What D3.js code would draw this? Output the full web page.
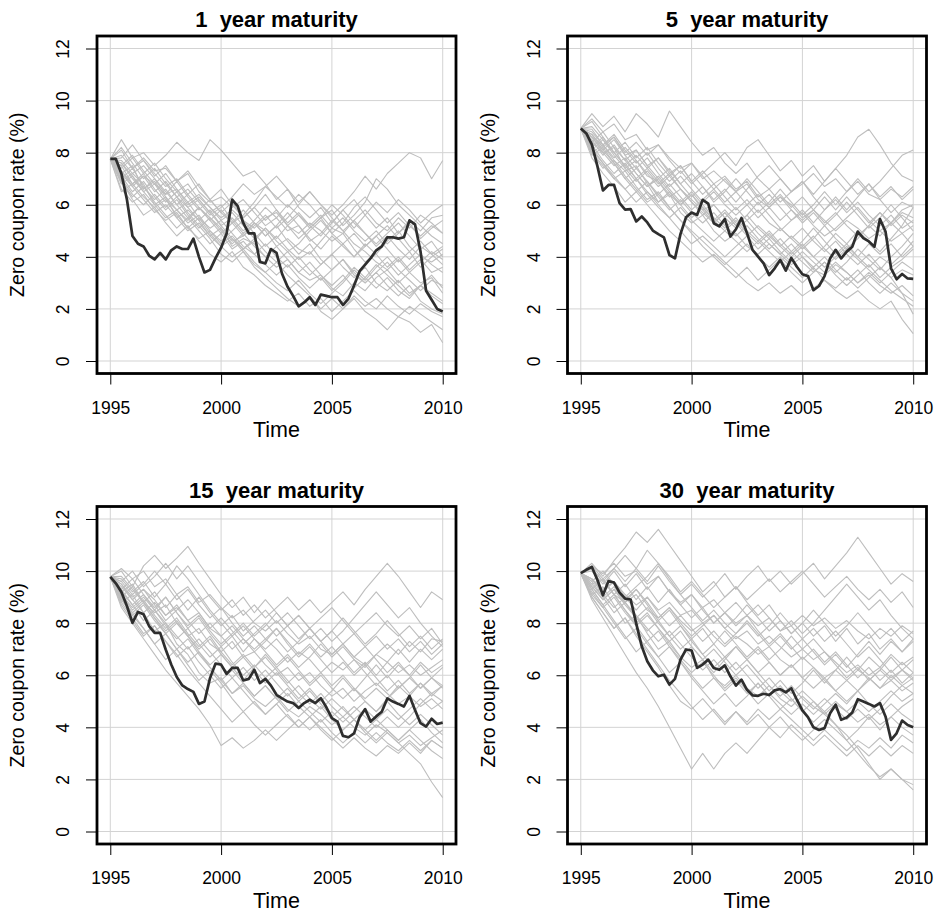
<!DOCTYPE html>
<html>
<head>
<meta charset="utf-8">
<script src="https://cdn.jsdelivr.net/npm/d3@7"></script>
<style>
  body { margin: 0; background: #fff; }
  svg { display: block; font-family: "Liberation Sans", Arial, Helvetica, sans-serif; }
</style>
</head>
<body>
<svg id="chart" width="935" height="912"></svg>
<script>
// Panel titles and axis ticks
const titles = ["1  year maturity", "5  year maturity", "15  year maturity", "30  year maturity"];
const xTicks = [1995, 2000, 2005, 2010];
const yTicks = [0, 2, 4, 6, 8, 10, 12];
const startYear = 1995;

// Observed zero coupon rates, quarterly 1995 Q1 .. 2010 Q1
const observed1 = [7.76,7.76,7.2,6.2,4.8,4.5,4.4,4.05,3.9,4.15,3.9,4.25,4.4,4.3,4.3,4.7,4.0,3.4,3.5,3.95,
  4.35,4.9,6.2,5.95,5.3,4.9,4.9,3.8,3.75,4.3,4.15,3.35,2.85,2.5,2.1,2.25,2.45,2.15,2.55,2.5,
  2.45,2.45,2.15,2.4,2.9,3.45,3.7,3.95,4.25,4.4,4.75,4.75,4.7,4.75,5.4,5.25,4.2,2.7,2.35,2.0,1.9];
const observed5 = [8.93,8.74,8.31,7.48,6.55,6.76,6.76,6.06,5.81,5.83,5.36,5.55,5.32,5.01,4.87,4.75,4.07,3.94,4.88,5.52,
  5.70,5.61,6.19,6.04,5.29,5.17,5.45,4.78,5.06,5.49,4.91,4.27,4.01,3.75,3.30,3.56,3.88,3.47,3.96,3.62,
  3.33,3.26,2.72,2.88,3.26,3.94,4.27,3.94,4.20,4.39,4.97,4.72,4.59,4.39,5.45,4.97,3.56,3.14,3.34,3.17,3.15];
const observed15 = [9.78,9.53,9.20,8.66,8.01,8.43,8.34,7.89,7.63,7.63,6.99,6.41,5.93,5.61,5.47,5.36,4.90,4.99,5.89,6.45,
  6.41,6.05,6.28,6.28,5.80,5.86,6.21,5.70,5.86,5.60,5.25,5.11,4.99,4.93,4.74,4.93,5.06,4.93,5.12,4.77,
  4.35,4.22,3.67,3.62,3.77,4.39,4.70,4.22,4.42,4.60,5.11,4.99,4.90,4.80,5.21,4.67,4.16,4.03,4.33,4.13,4.18];
const observed30 = [9.92,10.05,10.16,9.66,9.07,9.62,9.56,9.17,8.94,8.91,7.99,7.11,6.54,6.19,5.96,6.02,5.64,5.86,6.60,6.99,
  6.95,6.28,6.41,6.60,6.28,6.21,6.38,5.96,5.60,5.83,5.44,5.23,5.21,5.29,5.24,5.42,5.47,5.34,5.50,5.06,
  4.65,4.39,4.00,3.90,3.97,4.54,4.87,4.29,4.38,4.57,5.08,4.99,4.90,4.80,4.93,4.42,3.52,3.77,4.26,4.09,4.00];

// Simulated paths, half-yearly 1995.0 .. 2010.0
const simulated1 = [
  [7.75,8.5,7.8,8.0,7.5,7.9,8.4,8.0,7.7,8.5,8.1,7.6,7.1,7.3,6.8,6.2,6.6,5.9,5.5,5.9,5.3,5.8,6.2,5.6,5.1,5.5,4.9,5.3,4.7,5.1,5.4],
  [7.75,7.3,6.8,7.2,6.6,6.1,6.5,5.9,5.4,5.8,5.2,4.7,4.2,3.6,3.2,2.8,2.4,2.1,2.5,1.9,1.6,2.0,2.4,1.9,1.6,1.2,1.7,1.5,1.1,1.4,0.7],
  [7.75,6.9,6.2,5.6,5.9,5.3,4.8,5.2,4.6,4.1,3.8,4.2,3.6,3.3,2.9,2.6,2.3,2.6,2.1,2.4,1.9,2.3,2.7,2.3,2.0,2.5,2.1,1.8,2.2,1.9,1.7],
  [7.75,7.6,7.1,6.6,7.0,6.4,6.9,6.3,5.8,6.2,5.7,5.3,5.6,6.1,6.7,6.3,5.9,6.4,6.0,5.5,5.8,5.2,5.6,6.1,7.0,6.6,6.0,5.6,5.2,4.8,4.5],
  [7.75,7.0,7.4,6.7,6.2,6.6,6.0,5.5,5.9,5.4,4.9,5.3,5.8,5.3,4.8,5.2,4.6,4.1,4.5,3.9,3.5,3.9,3.3,3.0,3.4,2.9,2.5,2.9,2.3,2.0,1.8],
  [7.75,8.2,7.6,7.0,7.4,6.8,6.3,6.6,6.1,5.6,5.9,6.3,6.8,6.4,6.7,7.1,6.6,6.1,6.5,6.0,5.6,6.0,6.5,7.1,6.6,7.2,7.6,8.0,7.8,7.0,7.7],
  [7.75,6.6,6.1,6.4,5.8,5.4,5.7,5.1,4.7,5.0,4.5,4.8,4.3,4.7,4.2,3.8,4.2,3.7,3.3,3.7,4.1,3.6,3.2,3.6,3.0,2.7,3.1,2.6,2.9,3.3,2.8],
  [7.75,7.3,6.7,6.2,5.7,6.0,5.5,5.0,5.3,4.8,4.4,4.7,4.3,4.6,5.1,4.7,5.2,5.6,5.2,4.8,5.3,5.8,5.3,4.9,4.4,4.8,4.3,3.9,4.4,4.1,3.7],
  [7.75,7.9,7.4,7.7,7.2,6.7,7.0,6.4,6.8,6.2,5.7,6.1,5.5,5.9,6.4,5.8,5.3,5.7,5.2,5.6,5.1,5.5,5.0,4.6,5.0,4.5,4.9,5.4,5.0,5.5,5.6],
  [7.75,6.8,7.1,6.5,6.0,5.5,5.8,5.3,5.6,5.0,4.6,5.0,5.4,4.9,4.4,4.8,4.3,3.9,4.2,3.7,4.1,4.5,4.0,4.4,4.8,4.3,3.8,4.2,3.6,4.0,4.3],
  [7.75,7.5,7.9,7.3,6.8,7.2,6.6,6.1,6.4,5.9,5.4,5.7,5.2,4.7,5.1,4.6,4.2,4.5,5.0,5.4,4.9,5.3,5.9,6.3,5.8,5.3,5.7,5.2,4.8,5.2,4.9],
  [7.75,7.1,6.5,6.9,6.3,5.8,6.2,5.6,5.1,5.5,5.0,4.5,4.9,4.4,4.0,4.4,3.9,3.4,3.8,3.3,2.9,3.3,2.8,3.2,3.7,3.3,2.9,2.5,2.9,2.6,2.3],
  [7.75,7.7,7.2,7.5,7.0,6.5,6.0,6.4,5.9,5.4,5.8,5.3,4.8,5.2,5.6,5.1,5.5,6.0,6.5,6.0,5.5,5.0,5.4,4.9,4.5,4.9,5.3,4.8,4.3,4.6,4.0],
  [7.75,6.5,6.8,6.3,5.9,6.2,5.6,5.1,5.5,4.9,4.4,4.0,4.3,3.8,3.4,3.0,2.7,3.1,2.6,2.2,2.6,3.0,3.5,3.1,3.6,4.0,3.5,3.1,2.7,3.1,2.9],
  [7.75,7.4,7.8,7.2,7.6,7.0,6.5,6.8,6.2,5.7,6.0,5.4,4.9,5.3,4.8,5.2,5.7,5.2,4.7,4.3,4.8,4.4,4.0,4.5,4.1,3.6,4.0,3.5,3.9,3.4,3.6],
  [7.75,7.0,6.4,6.0,6.4,5.9,6.3,5.7,5.2,4.7,4.1,3.8,4.2,3.7,3.4,3.8,3.3,2.9,2.5,2.0,2.4,2.0,2.5,2.1,2.4,2.0,1.7,2.1,1.8,1.5,1.2],
  [7.75,7.8,8.3,7.7,7.1,7.5,6.9,7.3,6.7,6.2,6.6,6.0,5.5,5.9,5.4,5.8,5.2,4.7,5.1,5.5,6.0,5.6,5.1,5.6,6.1,5.7,6.2,5.8,5.3,5.7,6.0],
  [7.75,6.9,6.3,6.7,6.1,5.6,5.1,5.5,5.0,4.5,4.9,4.3,4.6,4.1,3.7,3.3,3.7,3.2,2.8,3.2,2.7,3.1,3.6,3.2,2.8,3.2,2.7,2.4,2.9,2.5,2.2],
  [7.75,7.2,6.7,7.1,6.5,6.9,6.3,5.9,6.2,5.7,5.2,5.5,5.0,5.4,5.9,5.5,6.0,5.6,5.1,5.5,4.9,4.5,4.9,4.4,4.8,5.2,4.7,4.2,4.6,4.1,4.4],
  [7.75,7.6,7.0,6.5,6.8,6.2,5.8,6.1,5.5,5.1,5.4,4.9,4.4,4.1,4.5,4.0,3.6,4.0,3.5,3.1,3.5,3.9,3.4,3.0,3.4,3.8,3.3,3.7,4.1,3.7,3.4],
  [7.75,7.2,7.5,6.6,6.9,6.3,5.8,5.4,5.9,5.5,5.1,4.6,4.8,5.3,5.0,4.4,4.7,4.3,4.1,4.6,5.1,4.9,4.3,3.8,4.1,4.6,5.0,4.4,4.0,3.8,4.1],
  [7.75,8.1,7.4,7.8,7.3,7.4,6.9,7.2,6.5,6.1,6.3,5.9,6.2,5.7,5.2,5.5,5.0,5.2,4.6,4.9,5.4,5.0,4.5,4.2,3.8,3.5,3.9,3.4,3.0,3.2,2.6],
  [7.75,6.9,7.2,6.8,6.0,6.3,5.5,5.8,5.4,4.8,5.1,4.4,4.7,4.5,4.0,3.6,3.9,3.4,3.1,3.3,2.8,2.5,3.0,2.7,3.2,3.5,3.0,3.4,3.8,4.2,3.9],
  [7.75,7.5,6.8,7.1,6.8,6.4,6.6,6.0,6.3,5.9,5.5,5.8,5.4,5.1,5.5,5.7,5.2,4.9,5.3,5.0,4.6,4.9,5.4,5.8,5.3,5.0,5.5,5.1,5.6,5.3,4.9]
];
const simulated5 = [
  [8.93,9.5,9.0,9.4,8.8,9.5,9.1,8.6,9.6,9.0,8.4,7.9,8.2,7.6,7.2,7.6,7.0,6.6,7.0,6.5,6.9,6.3,5.8,6.2,5.7,6.1,5.6,5.2,5.6,5.1,5.4],
  [8.93,8.2,7.6,7.0,7.3,6.7,6.2,6.5,5.9,5.4,5.0,4.6,4.2,3.8,3.4,3.0,2.7,3.0,2.6,2.9,2.5,2.8,3.1,2.7,2.4,2.7,2.3,2.0,2.3,1.6,1.05],
  [8.93,8.6,8.0,7.5,7.8,7.2,6.7,7.0,6.5,6.0,6.4,5.8,5.3,5.7,5.2,5.6,6.1,5.6,5.1,4.7,5.1,4.6,4.2,4.6,4.1,3.7,4.1,3.6,3.2,2.6,1.8],
  [8.93,8.9,8.3,8.7,8.1,7.6,8.0,7.4,6.9,7.3,6.8,7.2,7.6,8.0,7.5,8.2,8.5,7.9,7.3,7.7,7.1,7.5,6.9,7.4,7.9,8.6,8.9,8.3,7.6,7.1,6.9],
  [8.93,7.9,8.2,7.6,7.0,6.5,6.9,6.3,5.8,6.2,5.7,5.3,5.7,5.2,4.8,5.2,4.7,4.3,4.7,4.2,4.6,5.1,4.6,4.1,4.5,4.0,3.6,4.0,3.7,4.1,4.6],
  [8.93,8.4,8.8,8.2,7.7,8.1,7.5,7.0,7.4,6.8,6.3,6.7,6.1,6.5,7.0,6.5,6.0,6.4,5.9,5.4,5.8,5.3,5.8,6.3,5.8,6.3,6.8,6.2,5.7,6.1,5.9],
  [8.93,8.0,7.4,7.7,7.1,6.6,6.1,6.4,5.9,5.4,4.9,4.4,4.0,3.6,3.2,3.6,3.1,3.5,3.9,3.4,3.0,3.4,3.8,3.3,2.9,3.3,3.7,3.2,3.6,3.9,4.3],
  [8.93,9.2,8.6,8.0,8.4,7.8,8.2,7.6,7.1,7.5,6.9,6.4,6.8,6.3,5.8,6.2,5.7,6.1,6.6,6.1,5.6,6.0,6.5,6.0,6.5,7.0,6.5,6.9,7.4,7.9,8.1],
  [8.93,8.5,7.9,8.3,7.7,7.2,6.7,7.1,6.6,6.1,6.5,6.0,5.5,5.1,5.5,5.0,4.6,5.0,4.5,4.1,4.5,4.0,4.4,4.9,4.5,5.0,4.6,4.2,4.7,5.2,5.9],
  [8.93,8.1,8.5,7.9,7.4,6.9,7.3,6.8,7.2,6.6,6.1,5.6,6.0,5.5,5.9,5.4,4.9,4.5,4.1,4.5,4.0,3.6,4.0,3.5,3.1,3.5,3.0,2.6,3.0,2.6,2.3],
  [8.93,8.7,8.1,7.6,7.0,7.4,6.9,6.4,6.8,6.3,5.8,6.2,6.6,6.1,6.5,7.0,6.5,6.0,6.4,5.9,6.3,5.8,5.3,5.7,5.2,4.8,5.2,5.7,5.3,5.8,6.0],
  [8.93,7.8,7.2,6.7,6.1,6.5,6.0,5.5,5.0,4.6,4.2,3.8,4.1,3.7,4.1,4.5,4.0,3.6,4.0,3.6,3.2,3.6,3.1,2.8,3.2,2.8,3.2,3.6,3.2,3.5,3.3],
  [8.93,8.8,8.3,7.8,8.2,7.7,7.2,6.7,7.1,6.6,6.1,5.7,5.3,5.7,5.2,5.6,5.1,4.7,5.1,4.7,4.3,4.7,5.2,4.7,4.3,4.7,5.2,4.8,5.3,4.9,5.2],
  [8.93,8.3,7.7,7.2,7.6,7.0,6.5,6.1,6.5,6.0,5.5,5.9,5.4,5.8,5.3,4.8,5.2,4.8,4.4,4.0,4.4,4.0,3.6,4.0,4.4,4.0,4.5,4.1,4.5,4.0,4.4],
  [8.93,9.0,8.5,8.0,7.5,7.9,7.4,7.8,7.3,6.8,7.2,6.7,6.2,6.6,6.1,6.6,7.1,7.5,7.0,6.5,6.9,6.4,6.9,7.4,6.9,6.4,6.8,6.3,6.7,6.2,6.6],
  [8.93,8.0,7.5,7.0,6.6,7.0,6.4,5.9,5.5,5.9,5.4,5.0,4.6,5.0,4.6,4.2,4.6,4.2,3.8,4.2,3.8,3.4,3.8,3.4,3.8,4.3,3.9,3.5,4.0,4.4,4.9],
  [8.93,8.6,8.1,8.5,7.9,7.4,7.8,7.2,6.7,7.1,6.6,6.1,6.5,6.0,5.6,6.0,5.5,5.9,5.4,5.8,5.4,5.8,6.3,5.8,6.3,5.8,5.3,5.7,5.2,5.6,5.3],
  [8.93,8.2,8.6,8.0,7.5,7.0,7.4,6.9,6.4,6.0,6.4,5.9,5.4,5.0,5.4,4.9,4.5,4.9,4.4,4.8,4.4,4.8,4.3,3.9,4.3,3.9,3.5,3.1,2.7,2.4,2.1],
  [8.93,8.7,8.2,8.6,8.0,8.4,7.9,8.3,7.7,7.2,7.6,7.1,6.6,7.0,6.5,6.0,6.4,5.9,6.3,5.8,5.3,5.7,5.2,5.6,6.1,5.6,5.1,5.5,6.0,5.5,5.0],
  [8.93,8.1,7.6,7.1,6.6,6.1,6.5,6.0,5.5,5.0,4.5,4.8,4.4,4.0,4.4,4.8,4.3,4.7,4.2,3.8,4.2,3.8,3.4,3.8,3.4,3.0,3.4,3.0,3.4,3.8,3.5],
  [8.93,8.4,8.0,8.2,7.4,7.7,7.1,6.9,6.3,6.6,6.2,5.8,6.0,5.5,5.1,5.4,5.8,5.3,5.0,5.4,5.7,5.2,4.8,5.1,5.5,5.9,5.4,5.0,5.3,5.7,5.5],
  [8.93,9.3,8.8,9.1,8.5,8.7,8.1,8.3,7.8,7.4,7.6,7.0,7.3,6.9,6.5,6.8,6.2,5.9,6.3,6.0,5.5,5.8,5.4,5.0,5.4,5.1,4.7,5.0,4.6,4.9,4.4],
  [8.93,8.0,8.3,7.7,7.3,7.5,6.8,6.1,6.4,5.7,5.3,5.6,5.0,4.6,4.9,4.4,4.1,4.5,4.1,3.7,4.0,3.5,3.3,3.7,3.4,3.0,3.3,2.9,2.6,2.9,2.5],
  [8.93,8.6,8.3,8.6,7.9,8.1,7.5,7.8,7.2,7.5,6.9,7.3,6.8,7.1,6.6,6.9,6.3,6.6,6.1,6.5,6.8,7.2,6.7,7.0,6.5,6.9,6.4,6.2,6.6,6.3,6.7]
];
const simulated15 = [
  [9.78,10.0,9.4,10.2,10.6,10.1,10.5,10.95,10.3,9.7,9.1,8.6,9.0,8.4,8.9,8.4,7.9,8.3,7.8,7.3,7.7,7.2,7.6,7.1,7.5,7.0,7.4,6.9,7.3,6.8,7.2],
  [9.78,8.6,8.0,7.4,6.8,6.2,5.7,5.2,4.7,4.1,3.3,3.6,3.2,3.5,3.9,3.5,3.9,4.3,3.9,4.3,3.8,3.4,3.8,3.4,3.8,3.4,3.1,3.5,3.1,3.5,3.2],
  [9.78,9.0,8.3,7.8,7.2,6.6,7.0,6.4,5.8,6.2,5.7,5.1,4.6,5.0,4.5,4.9,5.3,4.8,4.4,4.8,4.3,3.9,4.3,3.8,3.4,3.8,3.4,3.0,2.6,1.9,1.3],
  [9.78,9.6,10.0,9.4,9.8,10.3,9.7,10.2,9.6,9.0,8.5,8.9,8.3,8.7,8.2,8.6,9.0,8.5,8.9,8.4,8.8,9.2,8.7,9.3,9.8,10.3,9.8,9.2,8.6,9.2,8.9],
  [9.78,9.1,8.5,8.9,8.3,7.8,8.2,7.6,7.1,7.5,6.9,6.4,6.8,6.3,6.7,6.2,5.7,6.1,5.6,6.0,5.5,5.1,5.5,5.0,4.6,5.0,4.5,4.1,4.5,4.1,3.7],
  [9.78,9.3,9.7,9.1,8.6,9.0,8.4,7.9,8.3,7.7,7.2,7.6,8.0,7.5,7.9,8.4,7.9,7.4,7.8,7.3,7.7,8.2,7.7,7.2,7.6,8.1,7.6,7.1,7.5,7.0,7.4],
  [9.78,8.8,8.2,7.6,7.9,7.3,6.8,6.2,5.7,5.2,4.7,4.2,4.6,4.1,3.7,4.1,4.5,4.0,4.4,3.9,3.5,3.9,4.3,3.9,3.5,3.9,3.5,3.9,4.3,3.8,3.4],
  [9.78,9.7,9.2,9.6,9.0,9.5,8.9,9.3,8.7,8.2,8.6,8.0,7.5,7.9,7.4,7.8,7.2,6.7,7.1,6.6,6.1,6.5,6.0,6.4,5.9,5.4,5.8,5.3,5.7,5.2,5.6],
  [9.78,9.2,8.7,8.1,8.5,7.9,7.4,7.8,7.2,6.7,7.1,6.5,6.0,6.4,5.9,6.3,5.8,5.3,4.9,5.3,4.8,4.4,4.8,4.4,4.0,4.4,4.0,4.4,4.9,5.3,5.6],
  [9.78,9.5,8.9,8.4,8.8,8.3,8.7,8.1,7.6,8.0,7.5,7.0,7.4,6.9,7.3,7.8,7.3,6.8,7.2,6.7,7.1,6.6,6.1,6.5,6.0,6.5,7.0,6.5,7.0,6.6,7.0],
  [9.78,8.9,8.3,8.7,8.1,7.6,7.0,7.4,6.8,6.3,5.8,6.2,5.7,5.2,5.6,5.1,4.6,5.0,4.6,4.2,4.6,4.2,4.6,5.0,4.6,5.1,5.6,5.2,5.7,5.3,5.0],
  [9.78,9.6,9.1,9.5,10.0,9.5,10.2,9.7,9.1,8.5,8.0,7.5,7.9,7.4,7.0,7.4,6.9,7.3,7.8,7.3,6.8,7.2,6.7,7.1,6.6,6.1,6.5,6.0,5.5,5.9,5.5],
  [9.78,9.0,9.4,8.8,8.2,7.7,8.1,7.5,7.0,7.4,6.8,6.3,6.7,6.2,5.7,6.1,5.6,5.1,5.5,5.0,5.4,5.9,5.4,5.9,6.4,5.9,6.4,6.0,6.5,6.1,6.4],
  [9.78,8.7,8.1,7.5,7.9,7.3,6.7,7.1,6.5,6.0,5.5,5.9,5.4,4.9,4.5,4.9,4.4,4.0,4.4,4.0,3.6,3.2,3.6,3.2,2.9,3.3,3.0,3.4,3.0,3.5,3.2],
  [9.78,9.4,8.9,9.3,8.7,8.1,8.5,8.9,8.4,7.8,8.2,7.7,7.2,7.6,8.0,7.5,7.9,8.3,7.8,8.2,8.6,8.1,7.6,8.0,8.4,7.9,7.5,7.9,7.4,7.8,7.2],
  [9.78,9.1,8.6,9.0,8.5,8.0,7.5,7.0,7.4,6.9,6.4,5.9,6.3,5.8,6.2,5.7,5.2,5.6,5.1,4.7,5.1,4.7,4.3,4.7,4.3,4.7,4.3,4.7,5.1,4.7,5.0],
  [9.78,9.8,9.3,8.8,9.2,8.6,9.1,8.5,9.0,8.4,7.9,8.3,7.7,8.1,8.5,8.0,8.4,7.9,7.4,7.8,7.3,7.7,8.2,8.7,9.2,8.7,8.2,8.6,8.0,7.5,7.1],
  [9.78,8.9,8.4,7.8,7.2,7.6,7.0,6.5,6.9,6.3,5.8,5.3,5.7,5.2,5.6,5.1,5.5,5.0,5.4,4.9,4.4,4.8,4.3,3.9,4.3,3.9,3.5,3.9,3.5,3.1,2.8],
  [9.78,9.3,8.7,9.1,8.5,9.0,8.4,7.8,8.2,7.6,7.1,7.5,6.9,7.4,6.9,6.4,6.8,6.3,6.7,7.2,6.7,7.1,6.6,6.1,5.6,6.0,5.5,5.9,6.4,5.9,6.3],
  [9.78,9.0,8.4,8.8,8.2,7.6,8.0,7.5,6.9,6.4,6.8,6.3,5.8,6.3,6.8,6.3,6.7,6.2,5.7,6.1,5.6,6.0,5.5,5.1,5.5,5.1,5.5,5.9,5.5,5.9,5.6],
  [9.78,9.2,9.5,8.8,8.4,8.7,8.0,7.5,7.8,7.2,6.9,7.3,6.7,6.9,6.4,6.0,6.3,5.8,6.1,5.6,5.2,5.5,5.0,5.4,5.7,5.3,4.9,5.2,4.8,5.1,4.7],
  [9.78,9.5,9.0,9.3,8.9,8.3,8.6,8.1,8.4,7.8,7.5,7.9,7.4,7.0,7.4,7.0,6.5,6.9,6.6,6.1,6.5,6.2,6.6,6.3,6.8,7.2,6.8,7.3,6.9,7.4,7.3],
  [9.78,8.8,9.1,8.4,7.7,8.0,7.2,6.8,6.1,5.7,5.9,5.3,5.6,5.1,4.8,5.2,4.7,4.4,4.8,4.5,4.1,4.4,4.0,3.7,4.1,3.8,3.4,3.7,3.3,3.6,3.9],
  [9.78,10.1,9.7,10.0,9.4,9.7,9.1,9.4,8.8,9.1,8.6,8.2,8.5,8.0,7.7,8.1,7.6,7.2,7.5,7.0,6.8,7.2,6.7,6.4,6.8,6.5,6.1,6.4,6.0,6.3,6.6]
];
const simulated30 = [
  [9.92,10.3,9.8,10.4,10.9,11.5,11.1,11.6,11.0,10.4,9.8,9.2,9.6,9.0,9.4,8.8,8.3,8.7,8.1,7.6,8.0,7.5,7.9,7.3,7.8,7.2,7.6,7.0,7.4,6.9,7.3],
  [9.92,8.9,8.2,7.5,6.8,6.1,5.5,4.8,4.0,3.2,2.4,3.0,2.4,3.0,3.4,3.0,3.5,4.0,3.6,4.1,3.7,3.3,3.7,3.3,2.9,3.3,2.9,3.3,2.9,3.3,3.0],
  [9.92,9.3,8.7,8.1,7.5,6.9,7.3,6.7,6.1,6.5,5.9,5.4,4.9,5.3,4.8,5.2,5.7,5.2,4.7,5.1,4.6,4.2,4.6,4.1,3.5,3.0,2.5,2.1,2.4,2.0,1.6],
  [9.92,10.1,9.6,10.1,9.6,10.1,9.6,10.2,9.6,9.1,9.5,9.0,9.4,9.9,9.3,9.8,10.2,9.6,10.0,9.5,9.9,10.3,9.7,10.2,10.7,11.3,10.7,10.1,9.5,9.9,9.6],
  [9.92,9.4,8.9,9.3,8.7,8.2,8.6,8.0,7.5,7.9,7.3,6.8,7.2,6.7,7.1,6.6,6.1,6.5,6.0,6.4,5.9,5.5,5.9,5.4,5.0,5.4,4.9,4.5,4.9,4.5,4.2],
  [9.92,9.6,10.0,9.5,8.9,9.3,8.8,8.2,8.6,8.0,7.5,7.9,8.3,7.8,8.2,8.7,8.2,7.7,8.1,7.6,8.0,8.5,8.0,7.5,7.9,8.4,7.9,7.4,7.8,7.3,7.7],
  [9.92,9.0,8.4,7.8,8.2,7.6,7.0,6.4,5.8,5.3,4.8,4.3,4.7,4.2,4.6,4.1,4.5,4.0,4.4,3.9,3.5,3.9,4.3,3.9,3.5,3.9,4.4,3.9,4.4,4.0,3.7],
  [9.92,10.0,9.5,10.0,9.4,9.9,9.3,9.8,9.2,8.7,9.1,8.5,8.0,8.4,7.9,8.3,7.7,7.2,7.6,7.1,6.6,7.0,6.5,6.9,6.4,5.9,6.3,5.8,6.2,5.7,6.1],
  [9.92,9.5,9.0,8.4,8.8,8.2,7.7,8.1,7.5,7.0,7.4,6.8,6.3,6.7,6.2,6.6,6.1,5.6,5.2,5.6,5.1,4.7,5.1,4.7,4.3,4.7,4.3,4.7,5.2,5.6,5.9],
  [9.92,9.7,9.1,8.6,9.0,8.5,9.0,8.4,7.9,8.3,7.8,7.3,7.7,7.2,7.6,8.1,7.6,7.1,7.5,7.0,7.4,6.9,6.4,6.8,6.3,6.8,7.3,6.8,7.3,6.9,7.4],
  [9.92,9.2,8.6,9.0,8.4,7.9,7.3,7.7,7.1,6.6,6.1,6.5,6.0,5.5,5.9,5.4,4.9,5.3,4.9,4.5,4.9,4.5,4.9,5.3,4.9,5.4,5.9,5.5,6.0,5.6,5.3],
  [9.92,10.2,9.7,10.1,10.6,10.1,10.8,10.3,9.7,9.1,8.6,8.1,8.5,8.0,7.6,8.0,7.5,7.9,8.4,7.9,7.4,7.8,7.3,7.7,7.2,6.7,7.1,6.6,6.1,6.5,6.1],
  [9.92,9.3,9.7,9.1,8.5,8.0,8.4,7.8,7.3,7.7,7.1,6.6,7.0,6.5,6.0,6.4,5.9,5.4,5.8,5.3,5.7,6.2,5.7,6.2,6.7,6.2,6.7,6.3,6.8,6.4,6.7],
  [9.92,9.0,8.4,7.8,8.2,7.5,6.9,6.3,5.6,5.0,4.7,5.1,4.6,4.1,4.6,4.2,4.7,4.3,4.7,4.3,3.9,3.5,3.9,3.5,3.1,3.5,3.2,3.6,3.2,3.7,3.4],
  [9.92,9.7,9.2,9.6,9.0,9.4,9.8,10.3,9.8,9.2,9.6,9.1,8.6,9.0,9.4,8.9,9.3,9.7,9.2,9.6,10.0,9.5,9.0,9.4,9.8,9.3,8.9,9.3,8.8,9.2,8.6],
  [9.92,9.4,8.9,9.3,8.8,8.3,7.8,7.3,7.7,7.2,6.7,6.2,6.6,6.1,6.5,6.0,5.5,5.9,5.4,5.0,5.4,5.0,4.6,5.0,4.6,5.0,4.6,5.0,5.4,5.0,5.3],
  [9.92,10.1,9.6,9.1,9.5,8.9,9.4,8.8,9.3,8.7,8.2,8.6,8.0,8.4,8.8,8.3,8.7,8.2,7.7,8.1,7.6,8.0,8.5,9.0,9.5,9.0,8.5,8.9,8.3,7.8,7.4],
  [9.92,9.1,8.6,8.0,7.4,7.8,7.2,6.7,7.1,6.5,6.0,5.5,5.9,5.4,5.8,5.3,5.7,5.2,5.6,5.1,4.6,5.0,4.5,4.1,3.7,3.2,2.6,2.0,2.4,2.0,1.8],
  [9.92,9.6,9.0,9.4,8.8,9.3,8.7,8.1,8.5,7.9,7.4,7.8,7.2,7.7,7.2,6.7,7.1,6.6,7.0,7.5,7.0,7.4,6.9,6.4,5.9,6.3,5.8,6.2,6.7,6.2,6.6],
  [9.92,9.3,8.7,9.1,8.5,7.9,8.3,7.8,7.2,6.7,7.1,6.6,6.1,6.6,7.1,6.6,7.0,6.5,6.0,6.4,5.9,6.3,5.8,5.4,5.8,5.4,5.8,6.2,5.8,6.2,5.9],
  [9.92,9.5,9.7,9.1,8.8,9.1,8.5,8.2,8.6,8.1,7.7,8.0,7.5,7.1,7.5,7.2,6.8,7.1,6.6,6.3,6.7,6.3,5.9,6.2,5.8,6.2,5.9,5.5,5.8,5.4,5.7],
  [9.92,10.2,9.9,10.3,9.8,10.0,9.5,9.8,9.2,8.8,9.1,8.6,8.9,8.4,8.0,8.3,7.9,8.2,7.7,7.9,8.3,7.9,8.2,7.8,8.1,7.7,7.4,7.8,7.5,7.9,7.6],
  [9.92,9.1,9.4,8.7,8.0,8.3,7.6,7.0,7.3,6.7,6.3,6.6,5.9,5.6,6.0,5.5,5.2,5.6,5.1,4.8,5.2,4.8,4.5,4.9,4.6,4.2,4.5,4.1,4.4,4.8,5.1],
  [9.92,9.7,9.3,9.6,9.1,8.7,9.0,8.5,8.8,8.3,8.5,8.0,8.3,7.8,7.4,7.7,7.2,7.5,7.1,6.7,7.0,6.6,6.9,6.5,6.1,6.4,6.0,6.3,5.9,6.2,5.8]
];

const observedList = [observed1, observed5, observed15, observed30];
const simulatedList = [simulated1, simulated5, simulated15, simulated30];

// layout of the 2x2 grid (plot regions)
const plotLeft = [97, 567.5];
const plotTop = [36, 506.5];
const plotW = 359, plotH = 337.5;

const svg = d3.select("#chart");

titles.forEach((title, i) => {
    let col = i % 2, row = Math.floor(i / 2);
    let x0 = plotLeft[col], y0 = plotTop[row];

    // R style axes: 4% padding on each side
    let x = d3.scaleLinear().domain([1994.4, 2010.6]).range([x0, x0 + plotW]);
    let y = d3.scaleLinear().domain([-0.48, 12.48]).range([y0 + plotH, y0]);

    let g = svg.append("g");

    // grid
    g.selectAll(".vgrid").data(xTicks).join("line")
        .attr("x1", d => x(d)).attr("x2", d => x(d))
        .attr("y1", y0).attr("y2", y0 + plotH)
        .attr("stroke", "#d3d3d3").attr("stroke-width", 1);
    g.selectAll(".hgrid").data(yTicks).join("line")
        .attr("x1", x0).attr("x2", x0 + plotW)
        .attr("y1", d => y(d)).attr("y2", d => y(d))
        .attr("stroke", "#d3d3d3").attr("stroke-width", 1);

    // simulated paths
    let simLine = d3.line().x((d, k) => x(startYear + k * 0.5)).y(d => y(d));
    g.selectAll(".sim").data(simulatedList[i]).join("path")
        .attr("d", simLine)
        .attr("fill", "none")
        .attr("stroke", "#bebebe")
        .attr("stroke-width", 1.1)
        .attr("stroke-linejoin", "round");

    // observed curve
    let obsLine = d3.line().x((d, k) => x(startYear + k * 0.25)).y(d => y(d));
    g.append("path")
        .attr("d", obsLine(observedList[i]))
        .attr("fill", "none")
        .attr("stroke", "#2e2e2e")
        .attr("stroke-width", 2.7)
        .attr("stroke-linejoin", "round");

    // box
    g.append("rect")
        .attr("x", x0).attr("y", y0).attr("width", plotW).attr("height", plotH)
        .attr("fill", "none").attr("stroke", "#000").attr("stroke-width", 2.8);

    // x axis
    let xAxis = g.append("g")
        .attr("transform", "translate(0," + (y0 + plotH) + ")")
        .call(d3.axisBottom(x).tickValues(xTicks).tickFormat(d3.format("d")).tickSize(11).tickPadding(17));
    xAxis.select(".domain").remove();
    xAxis.selectAll("line").attr("stroke", "#000");
    xAxis.selectAll("text").attr("fill", "#000").style("font-size", "17.5px");

    // y axis, labels parallel to the axis
    let yAxis = g.append("g")
        .attr("transform", "translate(" + x0 + ",0)")
        .call(d3.axisLeft(y).tickValues(yTicks).tickSize(11));
    yAxis.select(".domain").remove();
    yAxis.selectAll("line").attr("stroke", "#000");
    yAxis.selectAll("text")
        .attr("x", null).attr("dy", "0.35em")
        .attr("transform", "translate(-34,0) rotate(-90)")
        .attr("text-anchor", "middle")
        .attr("fill", "#000").style("font-size", "17.5px");

    // titles and labels
    g.append("text")
        .attr("x", x0 + plotW / 2).attr("y", y0 - 9)
        .attr("text-anchor", "middle")
        .style("font-size", "22px").style("font-weight", "bold")
        .style("white-space", "pre")
        .text(title);
    g.append("text")
        .attr("x", x0 + plotW / 2).attr("y", y0 + plotH + 63.5)
        .attr("text-anchor", "middle")
        .style("font-size", "21.5px")
        .text("Time");
    g.append("text")
        .attr("transform", "translate(" + (x0 - 73) + "," + (y0 + plotH / 2) + ") rotate(-90)")
        .attr("text-anchor", "middle")
        .style("font-size", "19.5px")
        .text("Zero coupon rate (%)");
});
</script>
</body>
</html>
